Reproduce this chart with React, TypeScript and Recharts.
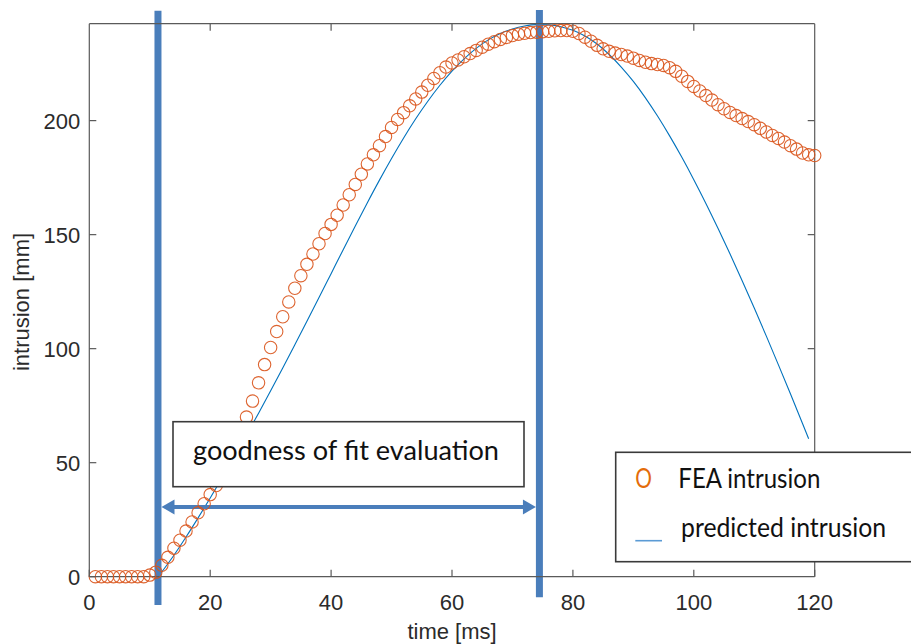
import React from "react";
import { ComposedChart, Scatter, Line, XAxis, YAxis, ReferenceLine } from "recharts";

// ─── Data ─────────────────────────────────────────────────────────────────────

// FEA intrusion [mm], one sample per ms starting at t = 1 ms
const FEA_INTRUSION = [
  0, 0, 0, 0, 0, 0, 0, 0, 0, 0.7,
  2, 5, 8.5, 12.5, 16, 20, 24, 28, 32, 36,
  40, 45, 50, 56, 63, 70, 77, 85, 93, 100.5,
  107.5, 114, 120.5, 126.5, 132, 137, 141.5, 146, 150.5, 154.5,
  158.5, 163, 167.5, 172, 176.5, 181, 185, 189, 193, 197,
  200.5, 203.5, 206.5, 209.5, 212.5, 215.5, 218.5, 221, 223.5, 225.3,
  226.6, 228, 229.4, 230.8, 232.2, 233.5, 234.6, 235.6, 236.5, 237.3,
  237.9, 238.3, 238.6, 238.8, 239, 239.2, 239.4, 239.5, 239.5, 239.2,
  238.2, 236.6, 234.8, 233, 231.5, 230.4, 229.6, 229, 228.3, 227.4,
  226.4, 225.6, 225, 224.6, 224.2, 223.2, 221.6, 219.5, 217.2, 215,
  213, 211, 209, 207, 205.2, 203.6, 202.2, 200.9, 199.6, 198.2,
  196.6, 195, 193.5, 192.2, 190.6, 189, 187.5, 185.8, 185, 184.7,
];
const FEA_T0 = 1; // ms
const FEA_DT = 1; // ms

// Predicted intrusion (fitted curve)
const PRED_TIME = [
  11.4, 14, 16, 18, 20, 22, 24, 26, 28, 30, 32, 34, 36, 38, 40, 42, 44, 46, 48, 50,
  52, 54, 56, 58, 60, 62, 64, 66, 68, 70, 72, 74, 76, 78, 80, 82, 84, 86, 88, 90,
  92, 94, 96, 98, 100, 102, 104, 106, 108, 110, 112, 114, 116, 118, 119,
];
const PRED_INTRUSION = [
  0, 9.4, 17.4, 25.8, 34.5, 43.5, 52.7, 62.1, 71.7, 81.5, 91.5, 101.7, 112, 122.4, 132.9, 143.4, 153.8, 164, 173.9, 183.4,
  192.4, 200.8, 208.5, 215.5, 221.7, 227.1, 231.7, 235.4, 238.2, 240.2, 241.5, 242.1, 242, 241.2, 239.6, 237.1, 233.6, 229, 223.5, 217.2,
  210, 202, 193.3, 184, 174.1, 163.7, 152.8, 141.5, 129.8, 117.8, 105.5, 92.9, 80.1, 67.1, 60.5,
];

const X_TICKS = [0, 20, 40, 60, 80, 100, 120];
const Y_TICKS = [0, 50, 100, 150, 200];
const X_DOMAIN: [number, number] = [0, 120];
const Y_DOMAIN: [number, number] = [0, 242.5];

// goodness-of-fit window [ms] and the level of the span arrow [mm]
const FIT_START = 11.36;
const FIT_END = 74.46;
const ARROW_LEVEL = 30.6;

const FEA = FEA_INTRUSION.map((v, i) => ({ t: FEA_T0 + i * FEA_DT, fea: v }));
const PRED = PRED_TIME.map((t, i) => ({ t, pred: PRED_INTRUSION[i] }));

// ─── Styles ───────────────────────────────────────────────────────────────────

const AXIS = "#5a5a5a";
const TICK_LEN = 7;
const ANNOT = "#4A7EBB";
const tickFont: React.CSSProperties = { fontFamily: "'Liberation Sans', Arial, sans-serif", fontSize: 22, fill: "#2b2b2b" };
const noteFont = "Lato, 'Open Sans', sans-serif";

// ─── Axis ticks (MATLAB style, pointing inwards) ─────────────────────────────

const BottomTick = ({ x, y, payload }: any) => (
  <g>
    <line x1={x} x2={x} y1={y} y2={y - TICK_LEN} stroke={AXIS} strokeWidth={1.2} />
    <text x={x} y={y + 33} textAnchor="middle" style={tickFont}>{payload.value}</text>
  </g>
);

const TopTick = ({ x, y }: any) => (
  <line x1={x} x2={x} y1={y} y2={y + TICK_LEN} stroke={AXIS} strokeWidth={1.2} />
);

const LeftTick = ({ x, y, payload }: any) => (
  <g>
    <line x1={x} x2={x + TICK_LEN} y1={y} y2={y} stroke={AXIS} strokeWidth={1.2} />
    <text x={x - 9} y={y + 8} textAnchor="end" style={tickFont}>{payload.value}</text>
  </g>
);

const RightTick = ({ x, y }: any) => (
  <line x1={x} x2={x - TICK_LEN} y1={y} y2={y} stroke={AXIS} strokeWidth={1.2} />
);

// open circle marker for the FEA samples
const Ring = ({ cx, cy }: any) => (
  <circle cx={cx} cy={cy} r={6.2} fill="none" stroke="#D95319" strokeWidth={1.1} strokeOpacity={0.9} />
);

// horizontal double-headed arrow spanning the fit window
const SpanArrow = ({ x1, x2, y1 }: any) => {
  const a = Math.min(x1, x2) + 3.5;
  const b = Math.max(x1, x2) - 3.5;
  const hl = 13;
  const hw = 7.5;
  return (
    <g>
      <line x1={a + hl - 1} x2={b - hl + 1} y1={y1} y2={y1} stroke={ANNOT} strokeWidth={4} />
      <polygon points={`${a},${y1} ${a + hl},${y1 - hw} ${a + hl},${y1 + hw}`} fill={ANNOT} />
      <polygon points={`${b},${y1} ${b - hl},${y1 - hw} ${b - hl},${y1 + hw}`} fill={ANNOT} />
    </g>
  );
};

// ─── Component ────────────────────────────────────────────────────────────────

export default function App() {
  return (
    <div style={{ position: "fixed", left: 0, top: 0, width: 911, height: 644, overflow: "hidden", background: "#fff" }}>
      <ComposedChart width={911} height={644} margin={{ top: 22.7, right: 95.3, bottom: 0, left: 0 }}>
        <XAxis
          xAxisId="b"
          dataKey="t"
          type="number"
          domain={X_DOMAIN}
          ticks={X_TICKS}
          interval={0}
          height={67.3}
          tickSize={0}
          tickMargin={0}
          tickLine={false}
          tick={<BottomTick />}
          axisLine={{ stroke: AXIS, strokeWidth: 1.2 }}
        />
        {/* top and right axes close the box; a zero-size axis is not drawn, so give them 1px */}
        <XAxis
          xAxisId="t"
          dataKey="t"
          orientation="top"
          type="number"
          domain={X_DOMAIN}
          ticks={X_TICKS.slice(1, -1)}
          interval={0}
          height={1}
          tickSize={0}
          tickMargin={0}
          tickLine={false}
          tick={<TopTick />}
          axisLine={{ stroke: AXIS, strokeWidth: 1.2 }}
        />
        <YAxis
          yAxisId="l"
          type="number"
          domain={Y_DOMAIN}
          ticks={Y_TICKS}
          interval={0}
          width={89.3}
          tickSize={0}
          tickMargin={0}
          tickLine={false}
          tick={<LeftTick />}
          axisLine={{ stroke: AXIS, strokeWidth: 1.2 }}
        />
        <YAxis
          yAxisId="r"
          orientation="right"
          type="number"
          domain={Y_DOMAIN}
          ticks={Y_TICKS.slice(1)}
          interval={0}
          width={1}
          tickSize={0}
          tickMargin={0}
          tickLine={false}
          tick={<RightTick />}
          axisLine={{ stroke: AXIS, strokeWidth: 1.2 }}
        />

        {/* invisible copy of the curve so the top/right box axes get a domain */}
        <Line
          xAxisId="t"
          yAxisId="r"
          data={PRED}
          dataKey="pred"
          stroke="none"
          dot={false}
          activeDot={false}
          legendType="none"
          isAnimationActive={false}
        />

        <Scatter
          xAxisId="b"
          yAxisId="l"
          data={FEA}
          dataKey="fea"
          name="FEA intrusion"
          shape={<Ring />}
          isAnimationActive={false}
        />
        <Line
          xAxisId="b"
          yAxisId="l"
          data={PRED}
          dataKey="pred"
          name="predicted intrusion"
          type="monotone"
          stroke="#0072BD"
          strokeWidth={1.1}
          dot={false}
          activeDot={false}
          isAnimationActive={false}
        />

        {/* fit window limits, drawn past the axes box */}
        <ReferenceLine
          xAxisId="b"
          yAxisId="l"
          segment={[{ x: FIT_START, y: -12.4 }, { x: FIT_START, y: 248.2 }]}
          stroke={ANNOT}
          strokeWidth={7}
          ifOverflow="visible"
        />
        <ReferenceLine
          xAxisId="b"
          yAxisId="l"
          segment={[{ x: FIT_END, y: -9 }, { x: FIT_END, y: 248.5 }]}
          stroke={ANNOT}
          strokeWidth={7}
          ifOverflow="visible"
        />
        <ReferenceLine
          xAxisId="b"
          yAxisId="l"
          segment={[{ x: FIT_START, y: ARROW_LEVEL }, { x: FIT_END, y: ARROW_LEVEL }]}
          shape={<SpanArrow />}
          ifOverflow="visible"
        />
      </ComposedChart>

      {/* axis titles, annotation box and legend */}
      <svg width={911} height={644} style={{ position: "absolute", left: 0, top: 0, pointerEvents: "none" }}>
        <text x={452} y={639} textAnchor="middle" style={tickFont}>time [ms]</text>
        <text x={29} y={302} textAnchor="middle" transform="rotate(-90 29 302)" style={tickFont}>intrusion [mm]</text>

        <rect x={173} y={421.7} width={351} height={65} fill="#fff" stroke="#3a3a3a" strokeWidth={1.6} />
        <text x={193} y={460} fontFamily={noteFont} fontSize={26} fill="#111" textLength={306} lengthAdjust="spacingAndGlyphs">
          goodness of fit evaluation
        </text>

        <rect x={615.7} y={452.3} width={330} height={109.4} fill="#fff" stroke="#3a3a3a" strokeWidth={1.6} />
        <text x={635.3} y={488} fontFamily={noteFont} fontSize={26} fill="#E46C0A" textLength={16.7} lengthAdjust="spacingAndGlyphs">O</text>
        <text x={678.3} y={488} fontFamily={noteFont} fontSize={26} fill="#111" textLength={142} lengthAdjust="spacingAndGlyphs">FEA intrusion</text>
        <line x1={635.3} x2={662} y1={540.7} y2={540.7} stroke="#5B9BD5" strokeWidth={1.6} />
        <text x={681} y={537} fontFamily={noteFont} fontSize={26} fill="#111" textLength={205} lengthAdjust="spacingAndGlyphs">predicted intrusion</text>
      </svg>
    </div>
  );
}
